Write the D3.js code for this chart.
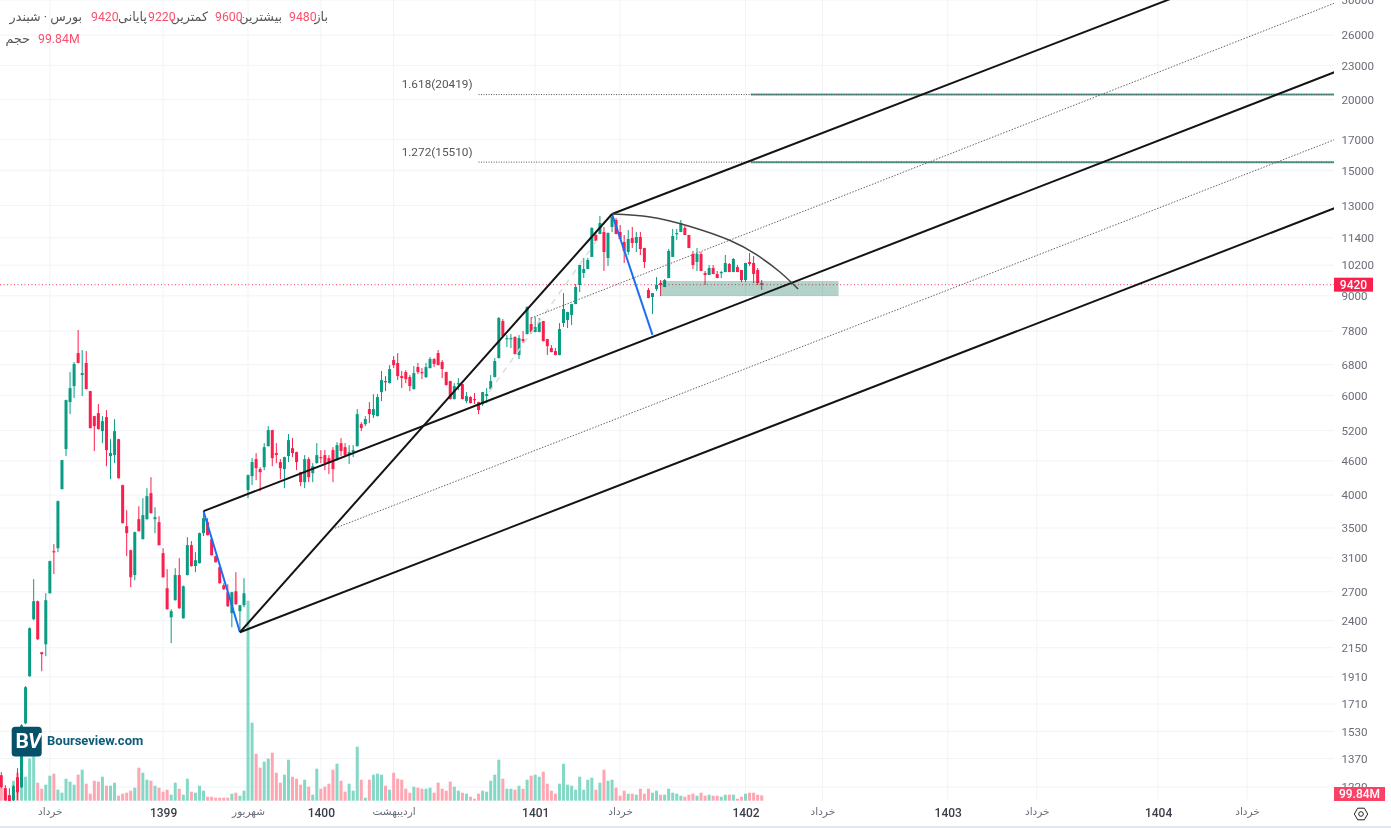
<!DOCTYPE html>
<html><head><meta charset="utf-8">
<script src="https://cdnjs.cloudflare.com/ajax/libs/d3/7.8.5/d3.min.js"></script>
<style>
html,body{margin:0;padding:0;background:#fff;overflow:hidden}
svg{display:block;filter:blur(0.3px)}
text{font-family:Roboto,"Noto Sans","DejaVu Sans",sans-serif}
</style></head><body><div id="chart"></div>
<script>
const opens=[1280,1214,1180,1156,1269,1219,1581,1915,2415,2598,2111,2181,2684,3185,3224,4100,4825,5842,6234,7131,6521,6850,6109,5518,5586,5191,5496,4689,4708,5024,4167,3526,3198,2890,3628,3345,3628,4033,3628,3584,3159,2739,2434,2609,2890,2424,2890,3264,2998,3033,3427,3584,3345,3120,2984,2772,2695,2475,2706,2495,2556,4083,4322,4632,4447,4483,4883,5212,4747,4576,4447,4689,4844,4766,4393,4218,4632,4375,4557,4670,4708,4651,4805,4613,4943,4863,4708,4766,4883,5341,5341,5678,5541,5518,6084,6363,6311,6931,6850,6495,6601,6468,6159,6737,6601,6468,6709,6959,7131,6877,6601,6363,5914,6285,6285,5866,5962,5914,5842,5795,5986,6159,6468,6987,8124,7550,7550,7612,7074,7550,7704,8026,7770,7770,8124,7550,7277,7190,7074,8058,8157,8325,8705,9407,9878,10040,10546,11530,11577,11672,10500,11912,12257,11672,11207,10760,11390,11161,11437,10936,9217,8958,9255,9483,9331,9678,10546,11577,11672,11864,11530,10672,10330,10672,9878,9800,10080,9838,9878,9918,10246,9918,10120,9999,9600,10330,10288,9999,9480];
const highs=[1296,1229,1214,1230,1317,1575,1840,2335,2842,2605,2115,2684,3065,3278,3915,4620,5900,6601,6877,7832,7219,7190,6115,5525,5795,5518,5655,5024,5451,5030,4175,3763,3205,3450,3824,3951,4116,4303,3808,3672,3224,2960,2515,2972,3095,2770,3372,3318,3172,3435,3748,3643,3350,3125,2990,2796,2784,2700,2924,2560,2853,4350,4651,4747,4483,4943,5297,5220,4943,4632,4680,5129,5045,4775,4400,4708,4670,4557,4943,4805,4805,4708,4863,4963,5045,4943,4903,4903,5678,5385,5518,5842,6035,6035,6628,6495,6791,7045,7131,6628,6655,6521,6764,6850,6709,6850,7017,6987,7219,6931,6610,6370,6311,6441,6290,6084,5985,6059,5850,6090,6184,6521,6987,8260,8190,7673,7704,7640,7673,7800,8630,8257,8257,8224,8130,7555,7366,7277,8058,9104,8435,8715,9447,10215,10500,10500,11900,11672,12460,11912,11650,12560,12355,12010,11530,11768,11912,11672,11672,10945,9292,9110,9717,9600,9640,10900,11816,11816,12257,11960,11540,10804,10936,10760,9960,10206,10206,9960,9960,10630,10288,10500,10206,10005,10295,10716,10584,10080,9600];
const lows=[1214,1147,1147,1150,1156,1215,1575,1910,2405,2220,1954,2077,2680,2902,3172,4095,4689,5563,5938,6840,5986,6150,5250,4786,5225,4943,4501,4269,4557,4280,3565,3120,2750,2830,3450,3340,3620,3710,3427,3260,2860,2510,2190,2605,2520,2420,2885,2990,2924,3030,3386,3395,3130,3040,2790,2720,2540,2337,2560,2309,2535,3951,4167,4252,4066,4429,4875,4501,4557,4269,4116,4576,4670,4429,4150,4116,4218,4218,4550,4557,4429,4357,4218,4605,4689,4670,4539,4670,4875,5191,5297,5363,5473,5510,5866,6109,6300,6709,6389,6184,6311,6109,6150,6548,6415,6441,6700,6737,6785,6441,6250,5905,5905,6134,5905,5818,5810,5795,5563,5748,5818,6150,6460,6980,7630,7306,7277,7095,6959,7428,7695,7704,7760,7760,7480,7074,7155,7068,7068,7928,7896,7990,8700,9143,9678,10035,10540,11245,11570,9960,10165,11672,11570,11340,10288,10630,10936,10760,10630,10080,8915,8358,9180,8994,9325,9670,10540,11298,11665,11525,10930,10040,9960,9955,9407,9795,9830,9670,9678,9910,9910,9910,9910,9522,9522,10165,9483,9407,9220];
const closes=[1219,1156,1151,1224,1194,1568,1831,2328,2598,2226,2095,2609,3058,3172,3904,4613,5890,6184,6823,6850,6574,6159,5255,5297,5233,5407,4805,4747,5191,4286,3569,3427,2864,3441,3455,3688,3984,3718,3657,3264,2864,2515,2495,2890,2525,2761,3264,2998,3070,3427,3643,3400,3133,3045,2796,2728,2545,2695,2567,2556,2684,4340,4576,4465,4393,4863,5212,4651,4708,4465,4670,5004,4747,4576,4218,4632,4303,4501,4708,4651,4557,4557,4447,4903,4786,4708,4766,4805,5563,5255,5451,5563,5678,5962,6389,6337,6682,6791,6495,6441,6415,6234,6574,6601,6574,6737,6959,6823,6791,6682,6260,5914,6234,6311,5914,5986,5818,5890,5655,6084,6035,6363,6904,8224,7640,7580,7580,7103,7580,7488,8600,7770,7928,8091,7488,7336,7161,7074,7864,8530,8427,8705,9331,10206,10040,10415,11864,11252,12107,10760,11624,12406,11577,11344,10804,11344,11161,11437,10892,10330,8921,9104,9407,9407,9600,10804,11483,11624,12107,11530,10936,10206,10672,9960,9800,10080,9838,9678,9918,10288,9918,10457,9918,9600,10288,10246,9838,9483,9420];
const volumes=[245,226,94,377,528,679,453,793,887,340,226,302,472,510,208,151,415,359,302,491,585,321,132,377,359,453,283,283,340,94,132,151,189,245,623,528,396,377,283,245,170,208,113,340,226,113,415,170,151,283,189,75,75,57,57,57,57,132,151,94,189,3774,1472,887,623,736,793,906,528,340,491,774,453,415,302,396,264,113,604,226,264,321,585,698,377,170,321,189,1019,396,57,396,491,510,491,283,208,528,415,396,226,151,264,245,226,226,245,151,340,226,189,359,264,189,151,132,75,38,132,189,170,377,491,774,415,226,226,208,283,226,396,472,491,453,547,321,189,132,321,698,302,283,208,453,208,396,434,208,340,585,377,396,245,94,189,132,132,113,226,132,226,151,189,113,113,226,151,132,94,75,113,132,94,151,94,113,94,94,75,113,113,113,38,75,132,151,151,113,99.84];
const priceTicks=[30000,26000,23000,20000,17000,15000,13000,11400,10200,9000,7800,6800,6000,5200,4600,4000,3500,3100,2700,2400,2150,1910,1710,1530,1370,1220];
const timeTickIndex=[12,40,61,79,97,132,153,184,203,234,256,286,308];
const timeTickLabels=["خرداد","1399","شهریور","1400","اردیبهشت","1401","خرداد","1402","خرداد","1403","خرداد","1404","خرداد"];
const rightEdgeIndex=329.7;
const forkA=[50,3748],forkB=[59,2290],forkC=[151,12560],forkD=[161,7680];
const forkLines=[[forkC,[292,30700]],[forkA,[rightEdgeIndex,22375]],[forkB,[rightEdgeIndex,12865]],[forkB,forkC]];
const dottedLines=[[[131,8224],[rightEdgeIndex,29630]],[[82.5,3497],[rightEdgeIndex,17000]]];
const blueLines=[[forkA,forkB],[forkC,forkD]];
const faintLine=[[120.6,6084],[148,11483]];
const arcPoints=[[151,12560],[160.4,12406],[170.3,11936],[180.2,11275],[186.8,10630],[192.5,9918],[197,9255]];
const fibLevels=[{ratio:"1.272",price:15510},{ratio:"1.618",price:20419}];
const fibStart=118,fibTealStart=185.3;
const zoneIndex=[163,207],zonePrice=[9561,8994];
const lastClose=9420,lastVolumeLabel="99.84M";

const W=1391,H=828,plotR=1334,plotB=801;
const svg=d3.select("#chart").append("svg").attr("width",W).attr("height",H);
svg.append("defs").append("clipPath").attr("id","plot").append("rect").attr("x",0).attr("y",0).attr("width",plotR).attr("height",plotB);
const x=d3.scaleLinear().domain([0,188]).range([1.3,761.7]);
const y=d3.scaleLog().domain([30000,1220]).range([0,787]);
const yVol=d3.scaleLinear().domain([0,3774]).range([800.7,600.7]);
const ln=d3.line().x(d=>x(d[0])).y(d=>y(d[1]));
const GREEN="#0a9c83",RED="#fa1f4d";

// grid
const grid=svg.append("g");
grid.selectAll(".h").data(priceTicks).join("line").attr("x1",0).attr("x2",plotR).attr("y1",d=>y(d)).attr("y2",d=>y(d)).attr("stroke","#f1f3f7").attr("stroke-width",1);
grid.selectAll(".v").data(timeTickIndex).join("line").attr("x1",d=>x(d)).attr("x2",d=>x(d)).attr("y1",0).attr("y2",plotB).attr("stroke","#f1f3f7").attr("stroke-width",1);

const plot=svg.append("g").attr("clip-path","url(#plot)");
// volume
plot.append("g").selectAll("rect").data(volumes).join("rect")
 .attr("x",(d,i)=>x(i)-1.5).attr("width",3).attr("y",d=>yVol(d)).attr("height",d=>yVol(0)-yVol(d))
 .attr("fill",(d,i)=>closes[i]>=opens[i]?"#84d8c6":"#ffa6b3");
// candles
const idx=d3.range(opens.length);
const cg=plot.append("g");
cg.selectAll("line").data(idx).join("line").attr("x1",i=>x(i)).attr("x2",i=>x(i)).attr("y1",i=>y(highs[i])).attr("y2",i=>y(lows[i]))
 .attr("stroke",i=>closes[i]>=opens[i]?GREEN:RED).attr("stroke-width",1);
cg.selectAll("rect").data(idx).join("rect").attr("x",i=>x(i)-1.5).attr("width",3)
 .attr("y",i=>Math.min(y(opens[i]),y(closes[i]))).attr("height",i=>Math.max(1.2,Math.abs(y(opens[i])-y(closes[i]))))
 .attr("fill",i=>closes[i]>=opens[i]?GREEN:RED);
// last price
plot.append("line").attr("x1",0).attr("x2",plotR).attr("y1",y(lastClose)).attr("y2",y(lastClose)).attr("stroke","#f7385e").attr("stroke-width",1).attr("stroke-dasharray","1 2.5");
// zone
plot.append("rect").attr("x",x(zoneIndex[0])).attr("width",x(zoneIndex[1])-x(zoneIndex[0])).attr("y",y(zonePrice[0])).attr("height",y(zonePrice[1])-y(zonePrice[0])).attr("fill","#00694f").attr("fill-opacity",0.3);
// fib
fibLevels.forEach(f=>{
 plot.append("path").attr("d",ln([[fibTealStart,f.price],[rightEdgeIndex,f.price]])).attr("stroke","#4f9f90").attr("stroke-width",2).attr("fill","none");
 plot.append("path").attr("d",ln([[fibStart,f.price],[rightEdgeIndex,f.price]])).attr("stroke","#555").attr("stroke-width",1).attr("stroke-dasharray","1 1.5").attr("fill","none");
 svg.append("text").attr("x",x(fibStart)-6).attr("y",y(f.price)-6.5).attr("text-anchor","end").attr("direction","ltr").attr("font-size",11.8).attr("fill","#555").text(`${f.ratio}(${f.price})`);
});
// tool lines
const tools=plot.append("g").attr("fill","none");
tools.append("path").attr("d",ln(faintLine)).attr("stroke","#dcdcdc").attr("stroke-width",1.5).attr("stroke-dasharray","6 6");
tools.selectAll(".d").data(dottedLines).join("path").attr("d",ln).attr("stroke","#666").attr("stroke-width",1).attr("stroke-dasharray","1.5 1.5");
tools.selectAll(".b").data(blueLines).join("path").attr("d",ln).attr("stroke","#1c6ff2").attr("stroke-width",2);
tools.selectAll(".f").data(forkLines).join("path").attr("d",ln).attr("stroke","#141414").attr("stroke-width",2);
tools.append("path").attr("d",d3.line().x(d=>x(d[0])).y(d=>y(d[1])).curve(d3.curveNatural)(arcPoints)).attr("stroke","#444").attr("stroke-width",1.5);

// axes
const yAxis=d3.axisRight(y).tickValues(priceTicks).tickFormat(d3.format("d")).tickSize(0).tickPadding(7.5);
const ya=svg.append("g").attr("transform",`translate(${plotR},0)`).call(yAxis);
ya.select(".domain").remove();
ya.selectAll("text").attr("font-size",11.6).attr("fill","#6a6d78").style("font-family","Roboto");
const xAxis=d3.axisBottom(x).tickValues(timeTickIndex).tickFormat((d,i)=>timeTickLabels[i]).tickSize(0).tickPadding(0);
const xa=svg.append("g").attr("transform","translate(0,808)").call(xAxis);
xa.select(".domain").remove();
xa.selectAll("text").attr("dy","0.71em").attr("font-size",(d,i)=>/^\d/.test(timeTickLabels[i])?12:10.5).attr("font-weight",(d,i)=>/^\d/.test(timeTickLabels[i])?500:400).attr("fill",(d,i)=>/^\d/.test(timeTickLabels[i])?"#3a3d47":"#6a6d78");

// axis badges
svg.append("rect").attr("x",plotR).attr("y",y(lastClose)-7).attr("width",39).attr("height",14).attr("fill","#fa1f4d");
svg.append("text").attr("x",plotR+19.5).attr("y",y(lastClose)+4.3).attr("text-anchor","middle").attr("font-size",12).attr("font-weight",500).attr("fill","#fff").text(lastClose);
svg.append("rect").attr("x",plotR).attr("y",787).attr("width",51).attr("height",14).attr("fill","#fb4265");
svg.append("text").attr("x",plotR+25.5).attr("y",798.3).attr("text-anchor","middle").attr("font-size",12).attr("font-weight",500).attr("fill","#fff").text(lastVolumeLabel);

// settings icon
const hex=d3.range(6).map(k=>[1361+6.7*Math.cos(k*Math.PI/3),814+6.7*Math.sin(k*Math.PI/3)]);
svg.append("path").attr("d",d3.line()(hex)+"Z").attr("fill","none").attr("stroke","#222").attr("stroke-width",1);
svg.append("circle").attr("cx",1361).attr("cy",814).attr("r",2.3).attr("fill","none").attr("stroke","#222").attr("stroke-width",1);
svg.append("rect").attr("x",0).attr("y",826).attr("width",W).attr("height",2).attr("fill","#e4e7ef");

// legend
const GREY="#555",PINK="#f8506e";
const legend=[["باز",328,16,GREY,"end"],["9480",289,16,PINK,"start"],["بیشترین",282,16,GREY,"end"],["9600",215,16,PINK,"start"],["کمترین",208,16,GREY,"end"],["9220",148,16,PINK,"start"],["پایانی",147,16,GREY,"end"],["9420",91,16,PINK,"start"],["بورس · شبندر",82,16,GREY,"end"],["حجم",30,38,GREY,"end"],["99.84M",38,38,PINK,"start"]];
svg.selectAll(".lg").data(legend).join("text").attr("x",d=>d[1]).attr("y",d=>d[2]+4.5).attr("fill",d=>d[3]).attr("text-anchor",d=>d[4]).attr("direction","ltr").attr("font-size",d=>/\d/.test(d[0])?12.3:12.7).text(d=>d[0]);

// logo
svg.append("rect").attr("x",11.7).attr("y",726.7).attr("width",30).attr("height",29.7).attr("rx",3.5).attr("fill","#07506a");
const bv=svg.append("text").attr("x",15.5).attr("y",748).attr("font-size",21).attr("font-weight",700).attr("fill","#fff");
bv.append("tspan").text("B");
bv.append("tspan").attr("font-style","italic").attr("dx",-1).text("V");
svg.append("text").attr("x",47).attr("y",744.5).attr("font-size",13).attr("font-weight",700).attr("fill","#0d5b78").text("Bourseview.com");
</script></body></html>
